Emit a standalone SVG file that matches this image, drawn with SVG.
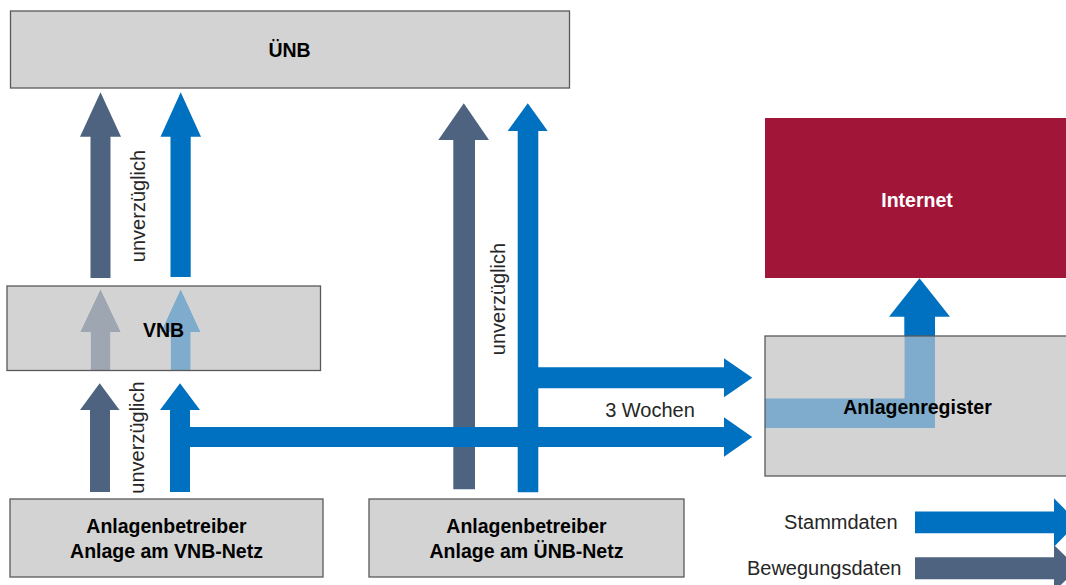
<svg xmlns="http://www.w3.org/2000/svg" xmlns:xlink="http://www.w3.org/1999/xlink" width="1066" height="585" viewBox="0 0 1066 585">
  <style>
    .box { fill: #d3d3d3; stroke: #595959; stroke-width: 1.3; }
    .frame { fill: none; stroke: #595959; stroke-width: 1.3; }
    .web { fill: #a11538; }
    .blue { fill: #0070c0; }
    .dark { fill: #4e6380; }
    .title { font-family: "Liberation Sans", Arial, sans-serif; font-weight: bold; font-size: 19.5px; fill: #000; text-anchor: middle; }
    .title.inv { fill: #fff; }
    .note { font-family: "Liberation Sans", Arial, sans-serif; font-size: 20px; fill: #262626; }
    .mid { text-anchor: middle; }
    .end { text-anchor: end; }
  </style>
  <defs>
    <!-- arrow outlines; fill is set where they are used -->
    <polygon id="up-vnb-dark" points="90.5,278 90.5,136.7 80,136.7 100.5,92.3 121,136.7 110.5,136.7 110.5,278"/>
    <polygon id="up-vnb-blue" points="170.5,277 170.5,136.7 160.5,136.7 180.7,92.3 201,136.7 190.7,136.7 190.7,277"/>
    <polygon id="in-vnb-dark" points="90.5,370 90.5,332.3 80,332.3 100.5,289 121,332.3 110.5,332.3 110.5,370"/>
    <polygon id="in-vnb-blue" points="170.5,370 170.5,332.3 160.7,332.3 180.7,289 200.7,332.3 190.7,332.3 190.7,370"/>
    <polygon id="op-vnb-dark" points="90,492 90,410 80,410 99.7,383.3 119.5,410 110,410 110,492"/>
    <polygon id="op-vnb-blue" points="170,492 170,410 160,410 180,383.3 200,410 190,410 190,427 724,427 724,417.3 752.3,437 724,456.7 724,447 190,447 190,492"/>
    <polygon id="op-unb-dark" points="453.3,489.3 453.3,140 438.3,140 463.8,103.3 489,140 475,140 475,489.3"/>
    <polygon id="op-unb-blue" points="517.7,492.3 517.7,131 507.7,131 527.8,103.3 547.7,131 538.3,131 538.3,367.3 724,367.3 724,358.3 752.3,377.8 724,397.3 724,388.3 538.3,388.3 538.3,492.3"/>
    <polygon id="reg-web" points="765,398.3 904.3,398.3 904.3,316.7 889,316.7 919.5,278.3 950,316.7 935,316.7 935,428.3 765,428.3"/>
    <!-- boxes let arrows behind them show through at reduced strength -->
    <mask id="see-through" maskUnits="userSpaceOnUse" x="0" y="0" width="1066" height="585">
      <rect x="0" y="0" width="1066" height="585" fill="#fff"/>
      <use xlink:href="#in-vnb-dark" fill="#999"/>
      <use xlink:href="#in-vnb-blue" fill="#999"/>
      <use xlink:href="#reg-web" fill="#999"/>
    </mask>
  </defs>

  <rect x="0" y="0" width="1066" height="585" fill="#fff"/>

  <g id="node-unb">
    <rect class="box" x="10.5" y="11" width="559" height="77"/>
    <text class="title" x="289.5" y="57">ÜNB</text>
  </g>

  <g id="node-internet">
    <rect class="web" x="765" y="118" width="305" height="160"/>
    <text class="title inv" x="917" y="207">Internet</text>
  </g>

  <g id="node-operator-vnb">
    <rect class="box" x="10" y="499" width="313" height="78"/>
    <text class="title" x="166.5" y="533">Anlagenbetreiber</text>
    <text class="title" x="166.5" y="557.5">Anlage am VNB-Netz</text>
  </g>

  <g id="node-operator-unb">
    <rect class="box" x="369" y="499" width="315" height="78"/>
    <text class="title" x="526.5" y="533">Anlagenbetreiber</text>
    <text class="title" x="526.5" y="557.5">Anlage am ÜNB-Netz</text>
  </g>

  <g id="connectors">
    <use xlink:href="#up-vnb-dark" class="dark"/>
    <use xlink:href="#up-vnb-blue" class="blue"/>
    <use xlink:href="#in-vnb-dark" class="dark"/>
    <use xlink:href="#in-vnb-blue" class="blue"/>
    <use xlink:href="#op-vnb-dark" class="dark"/>
    <use xlink:href="#op-unb-dark" class="dark"/>
    <use xlink:href="#op-vnb-blue" class="blue"/>
    <use xlink:href="#op-unb-blue" class="blue"/>
    <use xlink:href="#reg-web" class="blue"/>
    <text class="note" transform="translate(145 206) rotate(-90)" text-anchor="middle">unverzüglich</text>
    <text class="note" transform="translate(143.5 437.5) rotate(-90)" text-anchor="middle">unverzüglich</text>
    <text class="note" transform="translate(505 299) rotate(-90)" text-anchor="middle">unverzüglich</text>
    <text class="note mid" x="650" y="416.5">3 Wochen</text>
  </g>

  <g id="node-vnb">
    <rect x="7" y="286" width="313.5" height="84.5" fill="#d3d3d3" mask="url(#see-through)"/>
    <rect class="frame" x="7" y="286" width="313.5" height="84.5"/>
    <text class="title" x="163.5" y="337">VNB</text>
  </g>

  <g id="node-register">
    <rect x="765" y="336" width="310" height="140" fill="#d3d3d3" mask="url(#see-through)"/>
    <rect class="frame" x="765" y="336" width="310" height="140"/>
    <text class="title" x="917.5" y="413.5">Anlagenregister</text>
  </g>

  <g id="legend">
    <text class="note end" x="897.5" y="529">Stammdaten</text>
    <polygon class="blue" points="915,511.5 1054,511.5 1054,498.3 1078,522.5 1054,546.7 1054,533.3 915,533.3"/>
    <text class="note end" x="901.5" y="575">Bewegungsdaten</text>
    <polygon class="dark" points="915,557.3 1054,557.3 1054,545 1078,568.3 1054,591.6 1054,579.3 915,579.3"/>
  </g>
</svg>
